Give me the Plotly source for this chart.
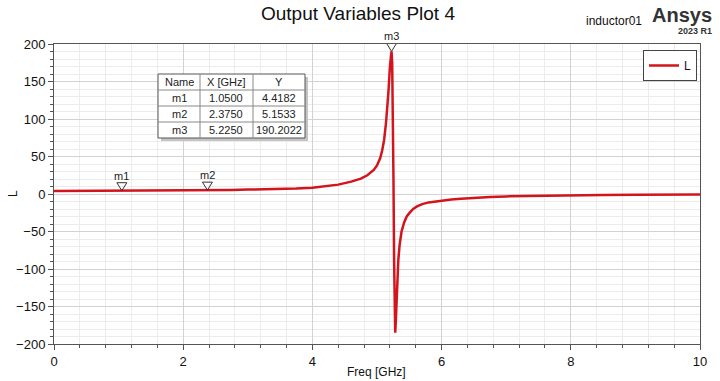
import plotly.graph_objects as go

# ---- data ----
freq_ghz = [0, 0.5, 1.05, 1.5, 2.0, 2.375, 2.75, 3.0, 3.25, 3.5, 3.75, 4.0, 4.2, 4.4, 4.6,
            4.75, 4.85, 4.95, 5.0, 5.05, 5.08, 5.11, 5.14, 5.16, 5.18, 5.2, 5.21, 5.225,
            5.235, 5.245, 5.255, 5.265, 5.275, 5.282, 5.29, 5.3, 5.315, 5.33, 5.35, 5.38,
            5.42, 5.46, 5.5, 5.56, 5.62, 5.7, 5.8, 5.9, 6.0, 6.15, 6.3, 6.5, 6.75, 7.0,
            7.5, 8.0, 8.5, 9.0, 9.5, 10.0]
L_values = [4.0, 4.1, 4.4182, 4.6, 4.9, 5.1533, 5.5, 5.9, 6.3, 6.8, 7.4, 8.5, 10.0, 12.5, 16.5,
            20.5, 25, 32, 38, 48, 58, 72, 95, 115, 140, 170, 183, 190.2022,
            175, 120, 20, -90, -165, -185, -172, -145, -110, -88, -68, -50,
            -38, -30, -25.5, -20, -16.5, -13.5, -11.2, -9.8, -8.8, -7.3, -6.2, -5.0, -3.9, -3.2,
            -2.3, -1.7, -1.3, -1.0, -0.75, -0.55]

marker_names = ["m1", "m2", "m3"]
marker_x = [1.05, 2.375, 5.225]
marker_y = [4.4182, 5.1533, 190.2022]
table_header = ["Name", "X [GHz]", "Y"]

x_ticks = [0, 2, 4, 6, 8, 10]
y_ticks = [-200, -150, -100, -50, 0, 50, 100, 150, 200]

FONT = "Arial, Liberation Sans, sans-serif"
RED = "#d3141d"
TXT = "#111111"

# plot area in pixels
L_PX, R_PX, T_PX, B_PX = 54, 700, 44, 344
W, H = 720, 381


def px(x):
    return (x - L_PX) / (R_PX - L_PX)


def py(y):
    return (B_PX - y) / (B_PX - T_PX)


fig = go.Figure()
fig.add_trace(go.Scatter(x=freq_ghz, y=L_values, mode="lines", name="L",
                         line=dict(color=RED, width=2.5), showlegend=True))

# marker triangles + labels
for n, mx, my in zip(marker_names, marker_x, marker_y):
    fig.add_shape(type="path", xref="x", yref="y", xsizemode="pixel", ysizemode="pixel",
                  xanchor=mx, yanchor=my, path="M-5,8 L5,8 L0,0 Z",
                  line=dict(color="#333333", width=1), fillcolor="rgba(255,255,255,0)",
                  layer="above")
    fig.add_annotation(x=mx, y=my, xref="x", yref="y", text=n, showarrow=False,
                       yshift=15, font=dict(family=FONT, size=11, color="#222222"))

# marker table (drawn with shapes + text)
col_edges = [158, 200, 253, 305]
row_edges = [74, 90, 106, 122, 138]
fig.add_shape(type="rect", xref="paper", yref="paper", x0=px(col_edges[0] + 3), x1=px(col_edges[-1] + 3),
              y0=py(row_edges[-1] + 3), y1=py(row_edges[0] + 3), line=dict(width=0),
              fillcolor="#c4c4c4", layer="above")
fig.add_shape(type="rect", xref="paper", yref="paper", x0=px(col_edges[0]), x1=px(col_edges[-1]),
              y0=py(row_edges[-1]), y1=py(row_edges[0]), line=dict(color="#555555", width=1),
              fillcolor="white", layer="above")
for cx in col_edges[1:-1]:
    fig.add_shape(type="line", xref="paper", yref="paper", x0=px(cx), x1=px(cx),
                  y0=py(row_edges[-1]), y1=py(row_edges[0]),
                  line=dict(color="#888888", width=1), layer="above")
for ry in row_edges[1:-1]:
    fig.add_shape(type="line", xref="paper", yref="paper", x0=px(col_edges[0]), x1=px(col_edges[-1]),
                  y0=py(ry), y1=py(ry), line=dict(color="#888888", width=1), layer="above")

rows = [table_header] + [[n, f"{mx:.4f}", f"{my:.4f}"] for n, mx, my in zip(marker_names, marker_x, marker_y)]
for ri, row in enumerate(rows):
    yc = (row_edges[ri] + row_edges[ri + 1]) / 2
    for ci, txt in enumerate(row):
        xc = (col_edges[ci] + col_edges[ci + 1]) / 2
        fig.add_annotation(xref="paper", yref="paper", x=px(xc), y=py(yc), text=txt,
                           showarrow=False, xanchor="center", yanchor="middle",
                           font=dict(family=FONT, size=11, color="#222222"))

fig.update_layout(
    width=W, height=H,
    margin=dict(l=L_PX, r=W - R_PX, t=T_PX, b=H - B_PX, autoexpand=False),
    paper_bgcolor="white", plot_bgcolor="white",
    font=dict(family=FONT, color=TXT),
    legend=dict(x=px(697), xanchor="right", y=py(50), yanchor="top", bgcolor="white",
                bordercolor="#444444", borderwidth=1, itemwidth=30,
                font=dict(family=FONT, size=12, color=TXT)),
    showlegend=True,
)

fig.update_xaxes(range=[0, 10], tickvals=x_ticks, ticks="outside", ticklen=5, tickcolor="#555555",
                 showline=True, linecolor="#555555", linewidth=1, mirror=True,
                 showgrid=True, gridcolor="#d2d2d2", gridwidth=1, zeroline=False, automargin=False,
                 minor=dict(dtick=0.4, ticks="outside", ticklen=3, tickcolor="#555555",
                            showgrid=True, gridcolor="#ececec"),
                 tickfont=dict(family=FONT, size=13, color=TXT))
fig.update_yaxes(range=[-200, 200], tickvals=y_ticks, ticks="outside", ticklen=5, tickcolor="#555555",
                 showline=True, linecolor="#555555", linewidth=1, mirror=True,
                 showgrid=True, gridcolor="#d2d2d2", gridwidth=1, zeroline=False, automargin=False,
                 minor=dict(dtick=10, ticks="outside", ticklen=3, tickcolor="#555555",
                            showgrid=True, gridcolor="#ececec"),
                 tickfont=dict(family=FONT, size=13, color=TXT))

# titles
fig.add_annotation(xref="paper", yref="paper", x=px(358), y=py(14), xanchor="center", yanchor="middle",
                   text="Output Variables Plot 4", showarrow=False,
                   font=dict(family=FONT, size=19, color=TXT))
fig.add_annotation(xref="paper", yref="paper", x=px(376), y=py(372), xanchor="center", yanchor="middle",
                   text="Freq [GHz]", showarrow=False, font=dict(family=FONT, size=12, color=TXT))
fig.add_annotation(xref="paper", yref="paper", x=px(13), y=py(194), xanchor="center", yanchor="middle",
                   text="L", textangle=-90, showarrow=False, font=dict(family=FONT, size=12, color=TXT))

# header texts top right
fig.add_annotation(xref="paper", yref="paper", x=px(644), y=py(21),
                   xanchor="right", yanchor="middle", text="inductor01", showarrow=False,
                   font=dict(family=FONT, size=12, color=TXT))
fig.add_annotation(xref="paper", yref="paper", x=px(714), y=py(15),
                   xanchor="right", yanchor="middle", text="<b>Ansys</b>", showarrow=False,
                   font=dict(family=FONT, size=20, color="#333333"))
fig.add_annotation(xref="paper", yref="paper", x=px(714), y=py(31),
                   xanchor="right", yanchor="middle", text="<b>2023 R1</b>", showarrow=False,
                   font=dict(family=FONT, size=9, color="#333333"))

fig.write_html("out.html", config={"displayModeBar": False},
               post_script="document.body.style.margin='0px';document.body.style.overflow='hidden';")
